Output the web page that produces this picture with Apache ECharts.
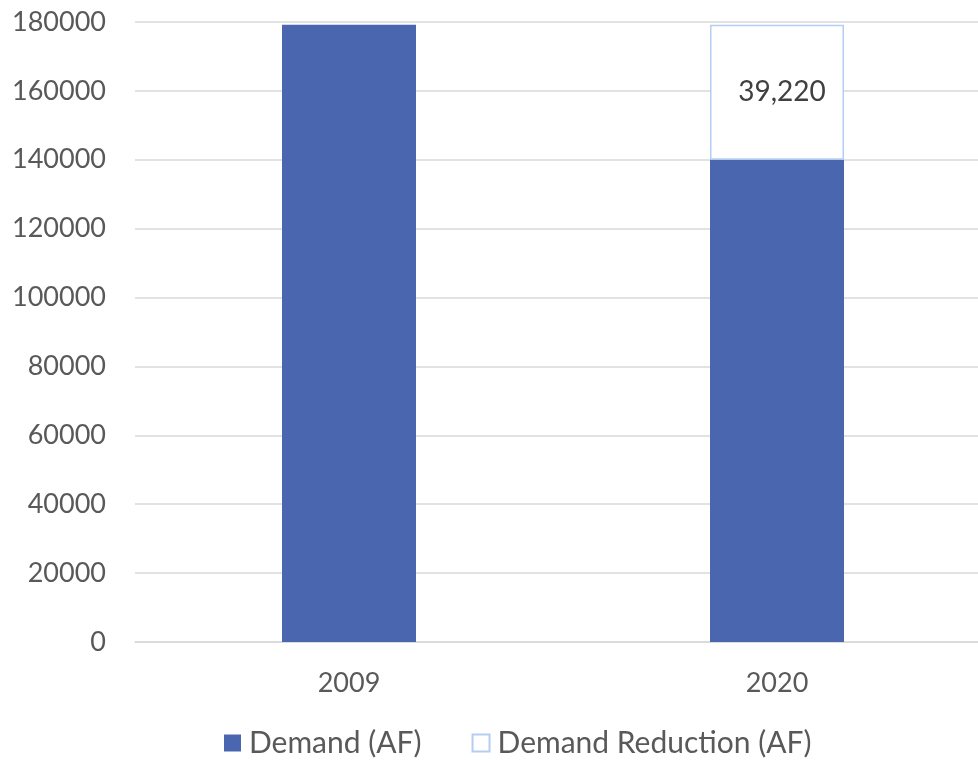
<!DOCTYPE html>
<html>
<head>
    <meta charset="utf-8">
    <title>Demand</title>
    <script src="https://cdn.jsdelivr.net/npm/echarts@6/dist/echarts.min.js"></script>
    <style>
        html, body { margin: 0; padding: 0; background: #ffffff; }
        #chart { width: 978px; height: 760px; }
    </style>
</head>
<body>
<div id="chart"></div>
<script>
    // data
    var years = ['2009', '2020'];
    var demand = [179220, 140000];
    var reduction = ['-', 39220];
    var yTicks = [0, 20000, 40000, 60000, 80000, 100000, 120000, 140000, 160000, 180000];

    var font = 'Lato, "Open Sans", sans-serif';
    var chart = echarts.init(document.getElementById('chart'));

    var option = {
        animation: false,
        textStyle: { fontFamily: font },
        // plot runs a bit past the right edge, like the original
        grid: {
            left: 135, width: 856, top: 22, height: 620,
            containLabel: false, outerBoundsMode: 'none'
        },
        legend: {
            bottom: -3,
            left: 219,
            icon: 'rect',
            itemWidth: 17,
            itemHeight: 17,
            itemGap: 50,
            textStyle: { fontSize: 30, color: '#595959', fontFamily: font, padding: [0, 0, 0, 3] },
            data: ['Demand (AF)', 'Demand Reduction (AF)']
        },
        xAxis: {
            type: 'category',
            data: years,
            axisLine: { lineStyle: { color: '#d9d9d9', width: 1.5 } },
            axisTick: { show: false },
            axisLabel: { fontSize: 27, color: '#595959', margin: 28, fontFamily: font }
        },
        yAxis: {
            type: 'value',
            min: yTicks[0],
            max: yTicks[yTicks.length - 1],
            interval: 20000,
            axisLine: { show: false },
            axisTick: { show: false },
            splitLine: { lineStyle: { color: '#d9d9d9', width: 1.5 } },
            axisLabel: {
                fontSize: 27, color: '#595959', margin: 29, fontFamily: font,
                formatter: function (v) { return String(v); }
            }
        },
        series: [
            {
                name: 'Demand (AF)',
                type: 'bar',
                stack: 'total',
                barWidth: 134,
                data: demand,
                itemStyle: { color: '#4966ae' }
            },
            {
                name: 'Demand Reduction (AF)',
                type: 'bar',
                stack: 'total',
                barWidth: 134,
                data: reduction,
                itemStyle: { color: '#ffffff', borderColor: '#b4cdf2', borderWidth: 1.5 },
                label: {
                    show: true,
                    position: 'inside',
                    fontSize: 28,
                    color: '#404040',
                    fontFamily: font,
                    offset: [5, 0],
                    formatter: function (p) {
                        return p.value.toLocaleString('en-US');
                    }
                }
            }
        ]
    };

    chart.setOption(option);
</script>
</body>
</html>
